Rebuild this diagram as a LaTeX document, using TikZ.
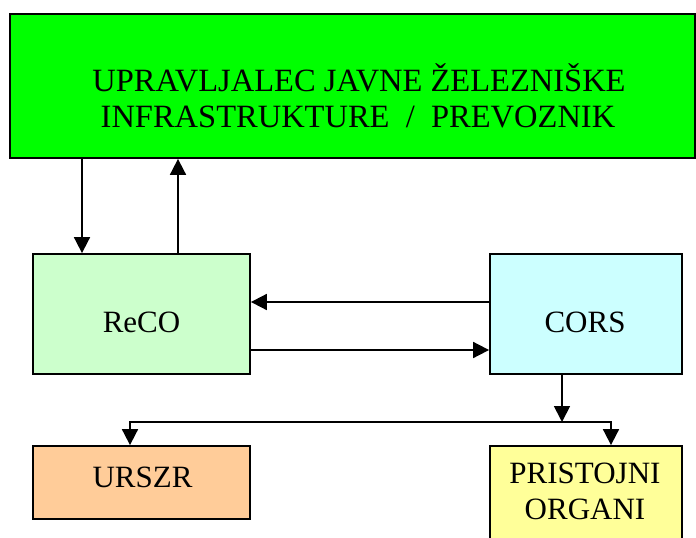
\documentclass[tikz,border=0pt]{standalone}
\usepackage{fontspec}
\setmainfont{Liberation Serif}
\usetikzlibrary{arrows.meta}
\tikzset{>={Triangle[length=16pt,width=16pt]}}
\definecolor{upravgreen}{RGB}{0,255,0}
\definecolor{recogreen}{RGB}{204,255,204}
\definecolor{corscyan}{RGB}{204,255,255}
\definecolor{urszrorange}{RGB}{255,204,153}
\definecolor{organiyellow}{RGB}{255,255,153}
\tikzset{box/.style = {draw=black, line width=1.8pt, inner sep=0pt}}
\tikzset{boxtext/.style = {anchor=base, inner sep=0pt, font=\fontsize{31}{36}\selectfont}}
\tikzset{link/.style = {->, line width=1.8pt}}

\begin{document}
\begin{tikzpicture}[x=1pt,y=-1pt]
		\useasboundingbox (0,0) rectangle (696,538);
		
		% Boxes
		\node[box, fill=upravgreen, minimum width=685pt, minimum height=144pt] (uprav) at (352.5,86) {};
		\node[box, fill=recogreen, minimum width=217pt, minimum height=120pt] (reco) at (141.5,314) {};
		\node[box, fill=corscyan, minimum width=192pt, minimum height=120pt] (cors) at (586,314) {};
		\node[box, fill=urszrorange, minimum width=217pt, minimum height=73pt] (urszr) at (141.5,482.5) {};
		\node[box, fill=organiyellow, minimum width=192pt, minimum height=104pt] (organi) at (586,498) {};
		
		% Texts
		\node[boxtext, font=\fontsize{32.5}{36}\selectfont] (upravtexta) at (359,91) {UPRAVLJALEC JAVNE ŽELEZNIŠKE};
		\node[boxtext, font=\fontsize{32.5}{36}\selectfont] (upravtextb) at (358,127) {INFRASTRUKTURE\ \ /\ \ PREVOZNIK};
		\node[boxtext] (recotext) at (141.5,332) {ReCO};
		\node[boxtext] (corstext) at (585,332) {CORS};
		\node[boxtext] (urszrtext) at (142.5,487) {URSZR};
		\node[boxtext] (organitexta) at (585,483) {PRISTOJNI};
		\node[boxtext] (organitextb) at (585,519) {ORGANI};
		
		% Arrows
		\draw[link] (82,0 |- uprav.south) -- (82,0 |- reco.north);
		\draw[link] (178,0 |- reco.north) -- (178,0 |- uprav.south);
		%
		\draw[link] (cors.west |- 0,302) -- (reco.east |- 0,302);
		\draw[link] (reco.east |- 0,350) -- (cors.west |- 0,350);
		%
		\coordinate (split) at (562,422);
		\draw[link] (split |- cors.south) -- (split);
		\draw[link] (split) -| (130,0 |- urszr.north);
		\draw[link] (split) -| (611,0 |- organi.north);
	\end{tikzpicture}
\end{document}
